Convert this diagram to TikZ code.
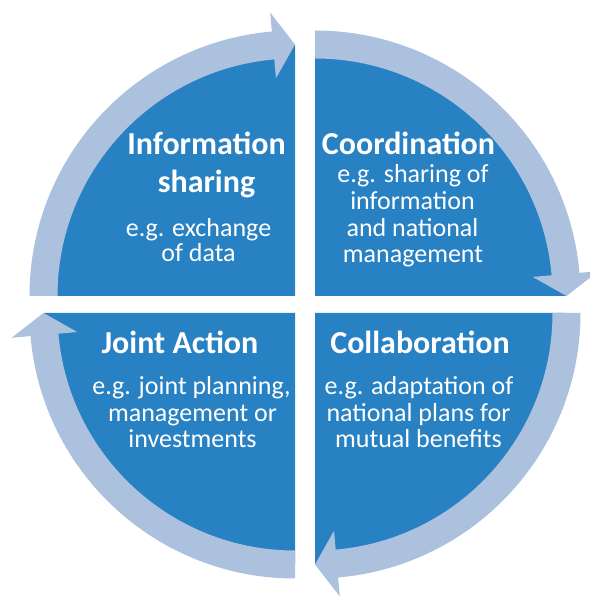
\documentclass[tikz,border=0pt]{standalone}
\usepackage{fontspec}
\setmainfont{Carlito}
\definecolor{quadblue}{RGB}{39,129,194}
\definecolor{ringblue}{RGB}{172,193,221}
\tikzset{
  quadfill/.style={fill=quadblue, draw=none},
  ringfill/.style={fill=ringblue, draw=none},
  titletext/.style={text=white, anchor=base, inner sep=0pt, font=\fontsize{32}{32}\bfseries\selectfont},
  subtext/.style={text=white, anchor=base, inner sep=0pt, font=\fontsize{26}{26}\selectfont},
  ringarrow/.pic={
    \fill[ringfill] (180:237.5) -- (180:265.5) arc[start angle=180, end angle=95, radius=265.5]
      -- (95:284.5) -- (90:251.5) -- (95:218.5) -- (95:237.5)
      arc[start angle=95, end angle=180, radius=237.5] -- cycle;
  }
}
\begin{document}
\begin{tikzpicture}[x=1pt, y=1pt]
\useasboundingbox (0,0) rectangle (590,597);
\clip (0,0) rectangle (590,597);
% quadrants
\fill[quadfill] (295,301) -- ++(180:251) arc[start angle=180, end angle=90, radius=251] -- cycle;
\fill[quadfill] (315,301) -- ++(90:251) arc[start angle=90, end angle=0, radius=251] -- cycle;
\fill[quadfill] (315,284) -- ++(0:251) arc[start angle=0, end angle=-90, radius=251] -- cycle;
\fill[quadfill] (295,284) -- ++(-90:251) arc[start angle=270, end angle=180, radius=251] -- cycle;
% ring arrows
\pic[shift={(295,301)}] {ringarrow};
\pic[shift={(315,301)}, rotate=-90] {ringarrow};
\pic[shift={(315,284)}, rotate=-180] {ringarrow};
\pic[shift={(295,284)}, rotate=90] {ringarrow};
% texts: top left
\node[titletext] (tl1) at (206.5,442) {Information};
\node[titletext] (tl2) at (206.5,404) {sharing};
\node[subtext] (tl3) at (198.5,360) {e.g. exchange};
\node[subtext] (tl4) at (198.5,335) {of data};
% top right
\node[titletext] (tr1) at (408.5,442) {Coordination};
\node[subtext] (tr2) at (413,414) {e.g. sharing of};
\node[subtext] (tr3) at (412.5,387) {information};
\node[subtext] (tr4) at (412.5,360) {and national};
\node[subtext] (tr5) at (413,334) {management};
% bottom left
\node[titletext] (bl1) at (180,243) {Joint Action};
\node[subtext] (bl2) at (191.5,202) {e.g. joint planning,};
\node[subtext] (bl3) at (192.5,175.5) {management or};
\node[subtext] (bl4) at (192.5,149) {investments};
% bottom right
\node[titletext] (br1) at (420,243) {Collaboration};
\node[subtext] (br2) at (419,202) {e.g. adaptation of};
\node[subtext] (br3) at (418.5,175.5) {national plans for};
\node[subtext] (br4) at (418.5,149) {mutual benefits};
\end{tikzpicture}
\end{document}
